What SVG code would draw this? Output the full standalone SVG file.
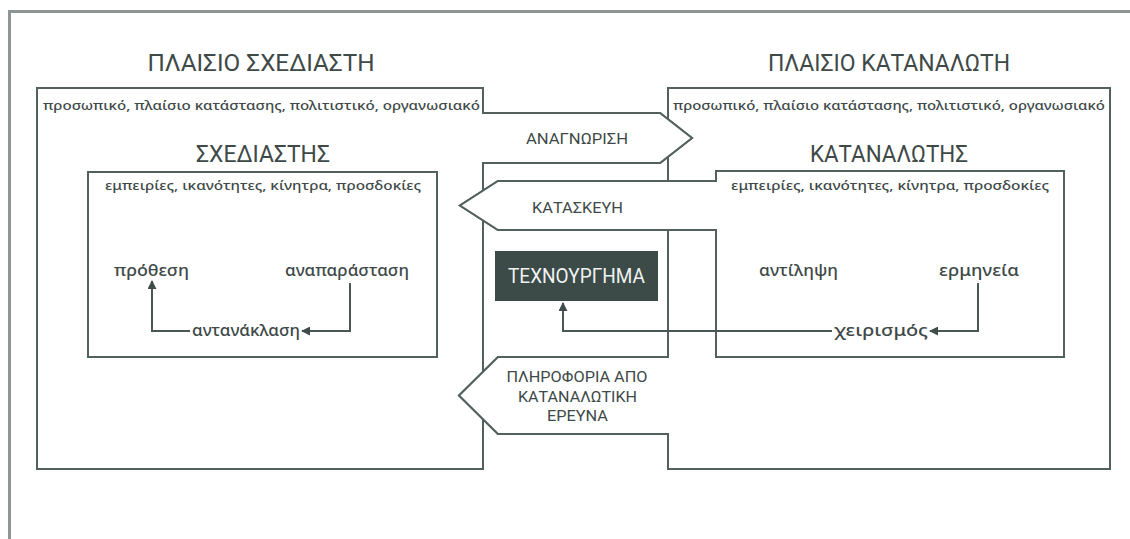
<svg xmlns="http://www.w3.org/2000/svg" width="1130" height="539" viewBox="0 0 1130 539">
  <defs>
    <marker id="head" viewBox="0 0 10 10" refX="9" refY="5" markerWidth="4.5" markerHeight="4.5" orient="auto">
      <path d="M0,0 L10,5 L0,10 Z" fill="#3f4c4a"/>
    </marker>
    <style>
      .border { fill: none; stroke: #8c9795; stroke-width: 3; }
      .line { fill: none; stroke: #52605e; stroke-width: 2; }
      .patch { fill: #ffffff; stroke: none; }
      .caps { font-family: Roboto, "Liberation Sans", sans-serif; fill: #3e4948; }
      .title { font-size: 24px; text-anchor: middle; }
      .flow { font-size: 15px; text-anchor: middle; }
      .inverse { font-family: Roboto, "Liberation Sans", sans-serif; font-size: 20px; fill: #eef2f1; text-anchor: middle; }
      .ctx { font-family: "Noto Sans", "Open Sans", sans-serif; font-size: 13px; font-weight: 500; fill: #3e4948; }
      .lbl { font-family: "Noto Sans", "Open Sans", sans-serif; font-size: 16px; font-weight: 500; fill: #3e4948; }
      .conn { fill: none; stroke: #4a5755; stroke-width: 2; marker-end: url(#head); }
    </style>
  </defs>

  <rect width="1130" height="539" fill="#ffffff"/>

  <!-- page border: top and left edge -->
  <g id="page-border">
    <path class="border" d="M9.5,539 V11.5 H1130"/>
  </g>

  <!-- designer context frame, with the recognition arrow as its outgrowth -->
  <g id="designer-context">
    <path class="line" d="M37,88 H483 V113 H660 L692,138 L660,163 H483 V469 H37 Z"/>
    <text class="caps title" x="261" y="71" textLength="227" lengthAdjust="spacingAndGlyphs">ΠΛΑΙΣΙΟ ΣΧΕΔΙΑΣΤΗ</text>
    <text class="ctx" x="43" y="110" textLength="437" lengthAdjust="spacingAndGlyphs">προσωπικό, πλαίσιο κατάστασης, πολιτιστικό, οργανωσιακό</text>
  </g>

  <!-- consumer context frame, with the research arrow as its outgrowth -->
  <g id="consumer-context">
    <path class="line" d="M668,88 H1110 V469 H668 V434 H498 L459,395.5 L498,357 H668 Z"/>
    <text class="caps title" x="889" y="71" textLength="242" lengthAdjust="spacingAndGlyphs">ΠΛΑΙΣΙΟ ΚΑΤΑΝΑΛΩΤΗ</text>
    <text class="ctx" x="673" y="110" textLength="432" lengthAdjust="spacingAndGlyphs">προσωπικό, πλαίσιο κατάστασης, πολιτιστικό, οργανωσιακό</text>
  </g>

  <!-- consumer box, with the construction arrow as its outgrowth -->
  <g id="consumer">
    <path class="line" d="M716,171 H1064 V357 H716 V230 H498 L460,205.5 L498,181 H716 Z"/>
    <text class="caps title" x="889" y="162" textLength="158" lengthAdjust="spacingAndGlyphs">ΚΑΤΑΝΑΛΩΤΗΣ</text>
    <text class="ctx" x="731" y="190" textLength="318" lengthAdjust="spacingAndGlyphs">εμπειρίες, ικανότητες, κίνητρα, προσδοκίες</text>
  </g>

  <!-- designer box -->
  <g id="designer">
    <rect class="line" x="88" y="172" width="349" height="185"/>
    <text class="caps title" x="263" y="162" textLength="134" lengthAdjust="spacingAndGlyphs">ΣΧΕΔΙΑΣΤΗΣ</text>
    <text class="ctx" x="105" y="190" textLength="316" lengthAdjust="spacingAndGlyphs">εμπειρίες, ικανότητες, κίνητρα, προσδοκίες</text>
  </g>

  <!-- flow arrows between the two sides; white bodies hide the frame edges they cross -->
  <g id="recognition">
    <polygon class="patch" points="483,113 660,113 692,138 660,163 483,163"/>
    <path class="line" d="M483,100 V113 H660 L692,138 L660,163 H483 V175"/>
    <text class="caps flow" x="577" y="144" textLength="102" lengthAdjust="spacingAndGlyphs">ΑΝΑΓΝΩΡΙΣΗ</text>
  </g>

  <g id="construction">
    <polygon class="patch" points="716,181 498,181 460,205.5 498,230 716,230"/>
    <path class="line" d="M716,171 V181 H498 L460,205.5 L498,230 H716 V240"/>
    <text class="caps flow" x="577.5" y="213" textLength="91" lengthAdjust="spacingAndGlyphs">ΚΑΤΑΣΚΕΥΗ</text>
  </g>

  <g id="research">
    <polygon class="patch" points="668,357 498,357 459,395.5 498,434 668,434"/>
    <path class="line" d="M668,345 V357 H498 L459,395.5 L498,434 H668 V446"/>
    <text class="caps flow" x="577" y="382" textLength="141" lengthAdjust="spacingAndGlyphs">ΠΛΗΡΟΦΟΡΙΑ ΑΠΟ</text>
    <text class="caps flow" x="577.5" y="402" textLength="119" lengthAdjust="spacingAndGlyphs">ΚΑΤΑΝΑΛΩΤΙΚΗ</text>
    <text class="caps flow" x="577.5" y="421" textLength="61" lengthAdjust="spacingAndGlyphs">ΕΡΕΥΝΑ</text>
  </g>

  <!-- the artifact -->
  <g id="artifact">
    <rect x="495" y="251" width="163" height="50" fill="#3c4a48"/>
    <text class="inverse" x="576.5" y="283" textLength="137" lengthAdjust="spacingAndGlyphs">ΤΕΧΝΟΥΡΓΗΜΑ</text>
  </g>

  <!-- designer-side steps -->
  <g id="intention"><text class="lbl" x="114" y="276" textLength="75" lengthAdjust="spacingAndGlyphs">πρόθεση</text></g>
  <g id="representation"><text class="lbl" x="285" y="276" textLength="124" lengthAdjust="spacingAndGlyphs">αναπαράσταση</text></g>
  <g id="reflection"><text class="lbl" x="192" y="336" textLength="108" lengthAdjust="spacingAndGlyphs">αντανάκλαση</text></g>

  <!-- consumer-side steps -->
  <g id="perception"><text class="lbl" x="759" y="276" textLength="79" lengthAdjust="spacingAndGlyphs">αντίληψη</text></g>
  <g id="interpretation"><text class="lbl" x="939" y="276" textLength="80" lengthAdjust="spacingAndGlyphs">ερμηνεία</text></g>
  <g id="handling"><text class="lbl" x="834" y="336" textLength="94" lengthAdjust="spacingAndGlyphs">χειρισμός</text></g>

  <!-- connectors -->
  <g id="connectors">
    <path class="conn" d="M350,283 V331 H302"/>
    <path class="conn" d="M190,331 H152 V281"/>
    <path class="conn" d="M978,283 V331 H930"/>
    <path class="conn" d="M832,331 H563 V303"/>
  </g>
</svg>
